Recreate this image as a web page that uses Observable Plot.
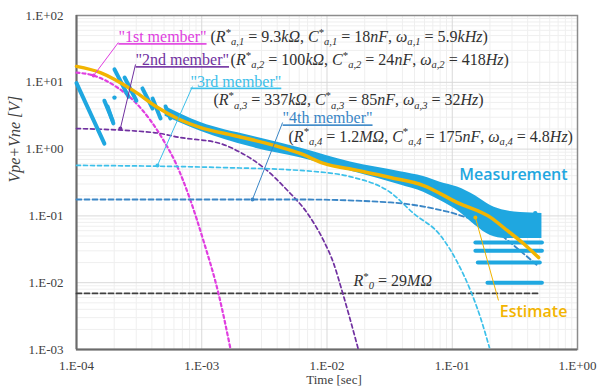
<!DOCTYPE html>
<html><head><meta charset="utf-8">
<script src="https://cdn.jsdelivr.net/npm/d3@7"></script>
<script src="https://cdn.jsdelivr.net/npm/@observablehq/plot@0.6"></script>
<style>body{margin:0;background:#fff;}</style>
</head><body><div id="chart"></div>
<script>
// ---- axes ----
const xTicks = [1e-4, 1e-3, 1e-2, 1e-1, 1];
const xTickLabels = ["1.E-04", "1.E-03", "1.E-02", "1.E-01", "1.E+00"];
const yTicks = [1e-3, 1e-2, 1e-1, 1, 10, 100];
const yTickLabels = ["1.E-03", "1.E-02", "1.E-01", "1.E+00", "1.E+01", "1.E+02"];

// ---- model members ----
const m1T = [1e-4, 1.37e-4, 2.12e-4, 2.85e-4, 3.90e-4, 4.95e-4, 6.17e-4, 8.13e-4, 1.03e-3, 1.36e-3, 1.70e-3];
const m1V = [14.0, 12.6, 8.36, 5.34, 2.68, 1.35, 0.63, 0.17, 0.0429, 0.0069, 0.001];
const m2T = [1e-4, 4.12e-4, 6.76e-4, 1.41e-3, 2.04e-3, 3.11e-3, 4.84e-3, 6.98e-3, 9.38e-3, 1.13e-2, 1.33e-2, 1.78e-2];
const m2V = [2.03, 1.77, 1.49, 1.21, 0.89, 0.53, 0.24, 0.109, 0.0429, 0.0194, 0.00713, 0.001];
const m3T = [1e-4, 1.41e-3, 6.13e-3, 0.0163, 0.0321, 0.0491, 0.0805, 0.110, 0.140, 0.168, 0.198];
const m3V = [0.57, 0.53, 0.479, 0.376, 0.224, 0.109, 0.0509, 0.0201, 0.0076, 0.0030, 0.00107];
const m4T = [1e-4, 6.13e-3, 0.0321, 0.0707, 0.110, 0.202, 0.37, 0.48];
const m4V = [0.176, 0.176, 0.159, 0.129, 0.105, 0.066, 0.0273, 0.018];
const r0T = [1e-4, 0.5];
const r0V = [0.0069, 0.0069];

// ---- estimate ----
const estT = [1e-4, 1.55e-4, 2.85e-4, 4.44e-4, 6.4e-4, 9.8e-4, 1.8e-3, 3.35e-3, 6.1e-3, 9.4e-3, 0.0175, 0.032, 0.059, 0.11, 0.202, 0.276, 0.37, 0.489];
const estV = [17.3, 14.0, 7.5, 4.2, 2.87, 2.1, 1.6, 1.21, 0.86, 0.61, 0.48, 0.376, 0.285, 0.158, 0.095, 0.060, 0.0386, 0.0238];

// ---- measurement ----
const bandT  = [5.1e-4, 9.8e-4, 2.45e-3, 6.1e-3, 0.0154, 0.0386, 0.059, 0.080, 0.110, 0.153, 0.202, 0.266, 0.351, 0.52];
const bandHi = [4.35, 2.5, 1.58, 1.04, 0.64, 0.46, 0.39, 0.32, 0.27, 0.20, 0.143, 0.12, 0.112, 0.109];
const bandLo = [3.1, 1.85, 1.08, 0.74, 0.47, 0.29, 0.226, 0.17, 0.12, 0.072, 0.051, 0.046, 0.046, 0.046];
const segT1 = [1e-4, 1.67e-4, 1.77e-4, 2.01e-4, 2.42e-4, 3.36e-4, 4.05e-4, 5.14e-4];
const segV1 = [9.7, 5.3, 4.35, 15.6, 11.8, 8.1, 5.7, 4.35];
const segT2 = [1.67e-4, 1.94e-4, 1.97e-4, 2.60e-4, 3.01e-4, 4.05e-4, 4.69e-4, 5.62e-4];
const segV2 = [1.21, 2.68, 2.42, 6.1, 5.3, 4.05, 2.87, 2.87];
const qV  = [0.04, 0.03, 0.02, 0.01];
const qT0 = [0.153, 0.153, 0.16, 0.191];
const qT1 = [0.52, 0.52, 0.50, 0.52];
const dotT = [2.01e-4, 0.46];
const dotV = [5.9, 0.11];

// ---- annotations ----
const memberText = ['"1st member"', '"2nd member"', '"3rd member"', '"4th member"'];
const memberColor = ["#e03ee0", "#7030a0", "#3cc0ea", "#3a86c6"];
const memberT = [2.16e-4, 2.96e-4, 8.13e-4, 4.42e-3];
const memberV = [47.7, 21.6, 10.3, 2.9];
const paramText = [
  "(R^*_{a,1} = 9.3kΩ, C^*_{a,1} = 18nF, ω_{a,1} = 5.9kHz)",
  "(R^*_{a,2} = 100kΩ, C^*_{a,2} = 24nF, ω_{a,2} = 418Hz)",
  "(R^*_{a,3} = 337kΩ, C^*_{a,3} = 85nF, ω_{a,3} = 32Hz)",
  "(R^*_{a,4} = 1.2MΩ, C^*_{a,4} = 175nF, ω_{a,4} = 4.8Hz)",
  "R^*_{0} = 29MΩ"
];
const paramT = [1.175e-3, 1.70e-3, 1.24e-3, 4.93e-3, 0.0163];
const paramV = [47.7, 21.6, 5.4, 1.55, 0.0108];
const leadT1 = [2.16e-4, 2.96e-4, 8.43e-4, 4.42e-3, 0.234];
const leadV1 = [39.4, 18.5, 8.65, 2.50, 0.00542];
const leadT2 = [1.37e-4, 2.24e-4, 4.43e-4, 2.54e-3, 0.153];
const leadV2 = [12.6, 2.03, 0.57, 0.176, 0.0946];
const leadColor = ["#e03ee0", "#7030a0", "#3cc0ea", "#3a86c6", "#f2b400"];

const CYAN = "#1fa7e0", GOLD = "#f2b400";
const zip = (ts, vs) => ts.map((t, i) => ({t, v: vs[i]}));
const minorX = [], minorY = [];
for (let e = -4; e < 0; e++) for (let k = 2; k < 10; k++) minorX.push(k * 10 ** e);
for (let e = -3; e < 2; e++) for (let k = 2; k < 10; k++) minorY.push(k * 10 ** e);
const fmt = (ticks, labels) => d => labels[ticks.findIndex(v => Math.abs(Math.log10(v) - Math.log10(d)) < 1e-6)];

const band = bandT.map((t, i) => ({t, hi: bandHi[i], lo: bandLo[i]}));
const segs = segT1.map((t, i) => ({t1: t, v1: segV1[i], t2: segT2[i], v2: segV2[i]}));
const quants = qV.map((v, i) => ({v, t0: qT0[i], t1: qT1[i]}));
const leads = leadT1.map((t, i) => ({t1: t, v1: leadV1[i], t2: leadT2[i], v2: leadV2[i], color: leadColor[i]}));
const members = memberText.map((text, i) => ({text, color: memberColor[i], t: memberT[i], v: memberV[i]}));
const params = paramText.map((text, i) => ({text, t: paramT[i], v: paramV[i]}));
const SERIF = "'Liberation Serif', 'DejaVu Serif', serif";
const SANS = "'Open Sans', 'Liberation Sans', sans-serif";

const svg = Plot.plot({
  width: 597, height: 391,
  marginLeft: 76, marginRight: 20, marginTop: 15, marginBottom: 42,
  style: {fontFamily: SERIF, fontSize: "13px", color: "#404040", background: "#fff"},
  x: {type: "log", domain: [1e-4, 1], ticks: xTicks, tickFormat: fmt(xTicks, xTickLabels), tickSize: 0, tickPadding: 11, label: null},
  y: {type: "log", domain: [1e-3, 100], ticks: yTicks, tickFormat: fmt(yTicks, yTickLabels), tickSize: 0, tickPadding: 13, label: null},
  color: {type: "identity"},
  marks: [
    Plot.ruleX(minorX, {stroke: "#efefef"}),
    Plot.ruleY(minorY, {stroke: "#efefef"}),
    Plot.ruleX(xTicks, {stroke: "#d9d9d9"}),
    Plot.ruleY(yTicks, {stroke: "#d9d9d9"}),
    Plot.frame({stroke: "#8c8c8c", strokeWidth: 1.5}),
    Plot.ruleX([1e-4], {stroke: "#6b6b6b", strokeWidth: 2}),
    Plot.ruleY([1e-3], {stroke: "#6b6b6b", strokeWidth: 2}),
    Plot.line(zip(r0T, r0V), {x: "t", y: "v", stroke: "#404040", strokeWidth: 1.8, strokeDasharray: "5,3"}),
    Plot.line(zip(m1T, m1V), {x: "t", y: "v", stroke: "#e03ee0", strokeWidth: 2.2, strokeDasharray: "3,3", curve: "monotone-x"}),
    Plot.line(zip(m2T, m2V), {x: "t", y: "v", stroke: "#7030a0", strokeWidth: 1.7, strokeDasharray: "4,3", curve: "monotone-x"}),
    Plot.line(zip(m3T, m3V), {x: "t", y: "v", stroke: "#3cc0ea", strokeWidth: 1.7, strokeDasharray: "4,3", curve: "monotone-x"}),
    Plot.line(zip(m4T, m4V), {x: "t", y: "v", stroke: "#3a86c6", strokeWidth: 1.8, strokeDasharray: "5,3", curve: "monotone-x"}),
    Plot.areaY(band, {x: "t", y1: "lo", y2: "hi", fill: CYAN, curve: "monotone-x"}),
    Plot.link(segs, {x1: "t1", y1: "v1", x2: "t2", y2: "v2", stroke: CYAN, strokeWidth: 4, strokeLinecap: "round"}),
    Plot.link(quants, {x1: "t0", x2: "t1", y1: "v", y2: "v", stroke: CYAN, strokeWidth: 4, strokeLinecap: "round"}),
    Plot.dot(zip(dotT, dotV), {x: "t", y: "v", r: 2.2, fill: CYAN}),
    Plot.line(zip(estT, estV), {x: "t", y: "v", stroke: GOLD, strokeWidth: 3.5, curve: "monotone-x"}),
    Plot.link(leads, {x1: "t1", y1: "v1", x2: "t2", y2: "v2", stroke: "color", strokeWidth: 1}),
    Plot.dot(leads, {x: "t2", y: "v2", r: 2, fill: "color"}),
    Plot.text(members, {x: "t", y: "v", text: "text", fill: "color", textAnchor: "start", fontSize: 16, fontFamily: SERIF}),
    Plot.text(params, {x: "t", y: "v", text: "text", fill: "#303030", textAnchor: "start", fontSize: 16, fontFamily: SERIF}),
    Plot.text(["Measurement"], {x: 0.308, y: 0.417, fill: CYAN, fontSize: 16, fontWeight: 600, fontFamily: SANS}),
    Plot.text(["Estimate"], {x: 0.446, y: 0.00371, fill: GOLD, fontSize: 16, fontWeight: 600, fontFamily: SANS}),
    Plot.text(["Time [sec]"], {frameAnchor: "bottom", dy: 34, dx: 7, fontSize: 13}),
    Plot.text(["Vpe+Vne [V]"], {frameAnchor: "left", rotate: -90, dx: -62, fontSize: 16, fontStyle: "italic"})
  ]
});

function renderMath(el, fs) {
  const s = el.textContent;
  const sel = d3.select(el);
  sel.text(null);
  const re = /\^\*|_\{([^}]*)\}|[A-Za-zΩω]+|[^A-Za-zΩω^_]+/g;
  let m, cur = 0;
  while ((m = re.exec(s))) {
    const tok = m[0];
    if (tok === "^*") {
      const target = -0.38 * fs;
      sel.append("tspan").attr("dy", target - cur).attr("font-size", fs * 0.68).attr("font-style", "normal").text("*");
      cur = target;
    } else if (tok.startsWith("_{")) {
      const target = 0.2 * fs;
      sel.append("tspan").attr("dy", target - cur).attr("font-size", fs * 0.66).attr("font-style", "italic").text(m[1]);
      cur = target;
    } else {
      const t = sel.append("tspan").attr("dy", -cur).text(tok);
      t.attr("font-style", /^[A-Za-zΩω]/.test(tok) ? "italic" : "normal");
      cur = 0;
    }
  }
}
svg.querySelectorAll("text").forEach(el => {
  const s = el.textContent;
  if (s.includes("^*") || s.includes("_{")) renderMath(el, 16);
  if (s.startsWith('"')) el.setAttribute("text-decoration", "underline");
});
document.getElementById("chart").appendChild(svg);
</script></body></html>
